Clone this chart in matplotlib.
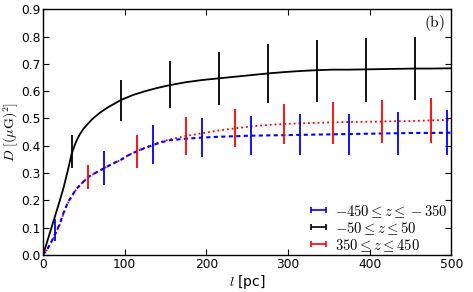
import numpy as np
import matplotlib
matplotlib.use('Agg')
import matplotlib.pyplot as plt

plt.rcParams['mathtext.fontset'] = 'cm'
plt.rcParams['font.family'] = ['DejaVu Sans']

# structure function curves (l in pc, D in (muG)^2)
l_black = [0, 5, 10, 15, 20, 25, 30, 35, 40, 45, 50, 60, 70, 80, 95, 110, 125, 140,
           155, 175, 195, 215, 235, 255, 275, 295, 315, 335, 355, 375, 395, 415,
           435, 455, 475, 500]
d_black = [0.0, 0.048, 0.097, 0.145, 0.194, 0.245, 0.305, 0.37, 0.412, 0.442, 0.464,
           0.497, 0.522, 0.542, 0.567, 0.586, 0.600, 0.612, 0.622, 0.633, 0.641,
           0.647, 0.653, 0.659, 0.665, 0.670, 0.674, 0.677, 0.679, 0.679, 0.680,
           0.681, 0.682, 0.683, 0.683, 0.684]

l_blue = [0, 5, 10, 15, 20, 25, 30, 35, 40, 45, 50, 55, 65, 75, 85, 95, 105, 115,
          125, 135, 145, 155, 175, 195, 215, 235, 255, 275, 295, 315, 335, 355,
          375, 395, 415, 435, 455, 475, 500]
d_blue = [0.0, 0.02, 0.047, 0.078, 0.11, 0.153, 0.19, 0.215, 0.238, 0.255, 0.27,
          0.285, 0.302, 0.318, 0.334, 0.348, 0.366, 0.38, 0.392, 0.403, 0.413,
          0.42, 0.426, 0.43, 0.433, 0.435, 0.437, 0.438, 0.439, 0.44, 0.441,
          0.442, 0.443, 0.444, 0.445, 0.446, 0.447, 0.447, 0.448]

l_red = [0, 5, 10, 15, 20, 25, 30, 35, 40, 45, 50, 55, 65, 75, 85, 95, 105, 115,
         125, 135, 145, 155, 175, 195, 215, 235, 255, 275, 295, 315, 335, 355,
         375, 395, 415, 435, 455, 475, 500]
d_red = [0.0, 0.019, 0.045, 0.076, 0.108, 0.15, 0.188, 0.214, 0.237, 0.255, 0.27,
         0.285, 0.302, 0.318, 0.334, 0.348, 0.366, 0.38, 0.393, 0.405, 0.415,
         0.423, 0.436, 0.446, 0.456, 0.464, 0.471, 0.476, 0.48, 0.482, 0.484,
         0.486, 0.487, 0.488, 0.489, 0.490, 0.491, 0.493, 0.495]

# error bars
eb_l_black = [35, 95, 155, 215, 275, 335, 395, 455]
eb_d_black = [0.38, 0.567, 0.623, 0.647, 0.664, 0.674, 0.678, 0.683]
eb_e_black = [0.06, 0.075, 0.086, 0.098, 0.108, 0.112, 0.116, 0.117]

eb_l_blue = [15, 75, 135, 195, 255, 315, 375, 435, 495]
eb_d_blue = [0.092, 0.32, 0.404, 0.43, 0.438, 0.441, 0.441, 0.445, 0.448]
eb_e_blue = [0.041, 0.062, 0.072, 0.071, 0.072, 0.075, 0.075, 0.079, 0.082]

eb_l_red = [55, 115, 175, 235, 295, 355, 415, 475]
eb_d_red = [0.285, 0.379, 0.437, 0.466, 0.48, 0.484, 0.489, 0.493]
eb_e_red = [0.045, 0.061, 0.07, 0.07, 0.072, 0.077, 0.08, 0.083]

labels = [r'$-450 \leq z \leq -350$', r'$-50 \leq z \leq 50$', r'$350 \leq z \leq 450$']

fig = plt.figure(figsize=(4.73, 2.92), dpi=100)
ax = fig.add_axes([0.091, 0.127, 0.863, 0.841])

ax.plot(l_red, d_red, color='red', lw=1.3, ls=':', zorder=3)
ax.plot(l_blue, d_blue, color='blue', lw=1.5, ls=(0, (2.0, 1.6)), zorder=4)
ax.plot(l_black, d_black, color='black', lw=1.3, zorder=5)

ax.errorbar(eb_l_blue, eb_d_blue, yerr=eb_e_blue, fmt='none', ecolor='blue', elinewidth=1.3, zorder=6)
ax.errorbar(eb_l_black, eb_d_black, yerr=eb_e_black, fmt='none', ecolor='black', elinewidth=1.3, zorder=6)
ax.errorbar(eb_l_red, eb_d_red, yerr=eb_e_red, fmt='none', ecolor='red', elinewidth=1.3, zorder=6)

# legend proxies: short horizontal bars with caps
handles = []
for c in ['blue', 'black', 'red']:
    h = ax.errorbar([np.nan], [np.nan], xerr=[1], fmt='none', ecolor=c, elinewidth=1.2, capsize=2.2, capthick=1.2)
    handles.append(h)
leg = ax.legend(handles, labels, loc='lower right', frameon=False, fontsize=10.5,
                handlelength=0.45, handletextpad=0.9, labelspacing=0.0,
                borderaxespad=0.2, bbox_to_anchor=(1.013, -0.03))

ax.set_xlim(0, 500)
ax.set_ylim(0, 0.9)
ax.set_xticks(np.arange(0, 501, 100))
ax.set_yticks(np.arange(0, 0.91, 0.1))
ax.set_yticklabels([f'{v:.1f}' for v in np.arange(0, 0.91, 0.1)])
ax.tick_params(direction='in', top=True, right=True, length=4, width=0.8, labelsize=8.8, pad=2)
for s in ax.spines.values():
    s.set_linewidth(1.0)

ax.set_xlabel(r'$l$ [pc]', fontsize=10, labelpad=2)
ax.set_ylabel(r'$D\ [(\mu \mathrm{G})^2]$', fontsize=10)
ax.yaxis.set_label_coords(-0.055, 0.5)
ax.text(0.985, 0.985, r'$\mathrm{(b)}$', transform=ax.transAxes, ha='right', va='top', fontsize=11)

fig.savefig('out.png', dpi=100)
